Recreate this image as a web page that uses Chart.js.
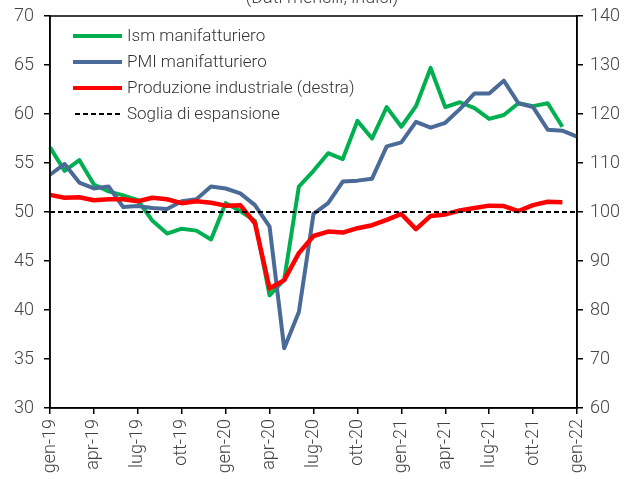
<!DOCTYPE html>
<html>
<head>
<meta charset="utf-8">
<script src="https://cdn.jsdelivr.net/npm/chart.js@4"></script>
<style>
  body { margin: 0; background: #fff; }
  #box { width: 630px; height: 479px; }
</style>
</head>
<body>
<div id="box"><canvas id="grafico"></canvas></div>
<script>
const mesi = [
  'gen-19','feb-19','mar-19','apr-19','mag-19','giu-19','lug-19','ago-19','set-19','ott-19','nov-19','dic-19',
  'gen-20','feb-20','mar-20','apr-20','mag-20','giu-20','lug-20','ago-20','set-20','ott-20','nov-20','dic-20',
  'gen-21','feb-21','mar-21','apr-21','mag-21','giu-21','lug-21','ago-21','set-21','ott-21','nov-21','dic-21',
  'gen-22'
];

const ism = [56.6, 54.2, 55.3, 52.8, 52.1, 51.7, 51.2, 49.1, 47.8, 48.3, 48.1, 47.2,
  50.9, 50.1, 49.1, 41.5, 43.1, 52.6, 54.2, 56.0, 55.4, 59.3, 57.5, 60.7,
  58.7, 60.8, 64.7, 60.7, 61.2, 60.6, 59.5, 59.9, 61.1, 60.8, 61.1, 58.7];

const pmi = [53.8, 54.9, 53.0, 52.4, 52.6, 50.5, 50.6, 50.4, 50.3, 51.1, 51.3, 52.6,
  52.4, 51.9, 50.7, 48.5, 36.1, 39.8, 49.8, 50.9, 53.1, 53.2, 53.4, 56.7,
  57.1, 59.2, 58.6, 59.1, 60.5, 62.1, 62.1, 63.4, 61.1, 60.7, 58.4, 58.3, 57.7];

// produzione industriale, asse destro
const produzione = [103.5, 102.9, 103.0, 102.4, 102.6, 102.6, 102.2, 102.9, 102.6, 101.8, 102.2, 101.9,
  101.3, 101.4, 97.7, 84.4, 86.1, 91.6, 95.1, 96.0, 95.8, 96.7, 97.3, 98.4,
  99.6, 96.5, 99.2, 99.5, 100.3, 100.8, 101.3, 101.2, 100.2, 101.4, 102.1, 102.0];

const soglia = [{ x: 'gen-19', y: 50 }, { x: 'gen-22', y: 50 }];

const tickSx = [30, 35, 40, 45, 50, 55, 60, 65, 70];
const tickDx = [60, 70, 80, 90, 100, 110, 120, 130, 140];

const FONT = 'Roboto';
const GRIGIO = '#444';

// titolo tagliato in alto
const titolo = {
  id: 'titolo',
  afterDraw(chart) {
    const ctx = chart.ctx;
    ctx.save();
    ctx.font = '300 18px ' + FONT;
    ctx.fillStyle = GRIGIO;
    ctx.textAlign = 'center';
    ctx.textBaseline = 'alphabetic';
    ctx.fillText('(Dati mensili, indici)', 322, 3);
    ctx.restore();
  }
};

// cornice dell'area del grafico
const cornice = {
  id: 'cornice',
  afterDatasetsDraw(chart) {
    const a = chart.chartArea;
    const ctx = chart.ctx;
    ctx.save();
    ctx.strokeStyle = '#000';
    ctx.lineWidth = 1.5;
    ctx.strokeRect(a.left, a.top, a.right - a.left, a.bottom - a.top);
    ctx.restore();
  }
};

// legenda dentro l'area
const legenda = {
  id: 'legenda',
  afterDraw(chart) {
    const ctx = chart.ctx;
    ctx.save();
    ctx.font = '300 17px ' + FONT;
    ctx.textBaseline = 'middle';
    chart.data.datasets.forEach((ds, i) => {
      const y = 36 + i * 26;
      ctx.beginPath();
      ctx.strokeStyle = ds.borderColor;
      if (ds.borderDash) {
        ctx.lineWidth = 2;
        ctx.setLineDash(ds.borderDash);
        ctx.moveTo(75, y);
      } else {
        ctx.lineWidth = 4;
        ctx.setLineDash([]);
        ctx.moveTo(73, y);
      }
      ctx.lineTo(122, y);
      ctx.stroke();
      ctx.setLineDash([]);
      ctx.fillStyle = '#333';
      ctx.fillText(ds.label, 127, y + 1);
    });
    ctx.restore();
  }
};

function fissaAsseY(larghezza) {
  return function (scale) {
    scale.width = larghezza;
    scale.paddingTop = 0;
    scale.paddingBottom = 0;
  };
}

new Chart(document.getElementById('grafico'), {
  type: 'line',
  data: {
    labels: mesi,
    datasets: [
      { label: 'Ism manifatturiero', data: ism, borderColor: '#00b050', borderWidth: 4, yAxisID: 'y', order: 4 },
      { label: 'PMI manifatturiero', data: pmi, borderColor: '#4a6b97', borderWidth: 4, yAxisID: 'y', order: 3 },
      { label: 'Produzione industriale (destra)', data: produzione, borderColor: '#ff0000', borderWidth: 4.5, yAxisID: 'y1', order: 2 },
      { label: 'Soglia di espansione', data: soglia, borderColor: '#000', borderWidth: 2, borderDash: [5, 3], yAxisID: 'y', order: 1 }
    ]
  },
  options: {
    responsive: true,
    maintainAspectRatio: false,
    animation: false,
    layout: { padding: { top: 16, left: 0, right: 0, bottom: 0 } },
    elements: { point: { radius: 0 }, line: { tension: 0, borderJoinStyle: 'round' } },
    plugins: { legend: { display: false }, tooltip: { enabled: false } },
    scales: {
      x: {
        type: 'category',
        offset: false,
        grid: { drawOnChartArea: false, color: '#000', tickLength: 6, lineWidth: 1.5 },
        border: { color: '#000', width: 1.5 },
        ticks: {
          autoSkip: false,
          maxRotation: 90,
          minRotation: 90,
          padding: 5,
          color: GRIGIO,
          font: { family: FONT, size: 18, weight: '300' },
          callback(v, i) { return i % 3 === 0 ? this.getLabelForValue(v) : null; }
        },
        afterFit(scale) { scale.height = 71; }
      },
      y: {
        position: 'left',
        min: 30, max: 70,
        afterBuildTicks(scale) { scale.ticks = tickSx.map(v => ({ value: v })); },
        grid: { drawOnChartArea: false, color: '#000', tickLength: 6, lineWidth: 1.5 },
        border: { color: '#000', width: 1.5 },
        ticks: { padding: 10, color: GRIGIO, font: { family: FONT, size: 18, weight: '300' } },
        afterFit: fissaAsseY(50)
      },
      y1: {
        position: 'right',
        min: 60, max: 140,
        afterBuildTicks(scale) { scale.ticks = tickDx.map(v => ({ value: v })); },
        grid: { drawOnChartArea: false, color: '#000', tickLength: 6, lineWidth: 1.5 },
        border: { color: '#000', width: 1.5 },
        ticks: { padding: 7, color: GRIGIO, font: { family: FONT, size: 18, weight: '300' } },
        afterFit: fissaAsseY(53)
      }
    }
  },
  plugins: [titolo, cornice, legenda]
});
</script>
</body>
</html>
